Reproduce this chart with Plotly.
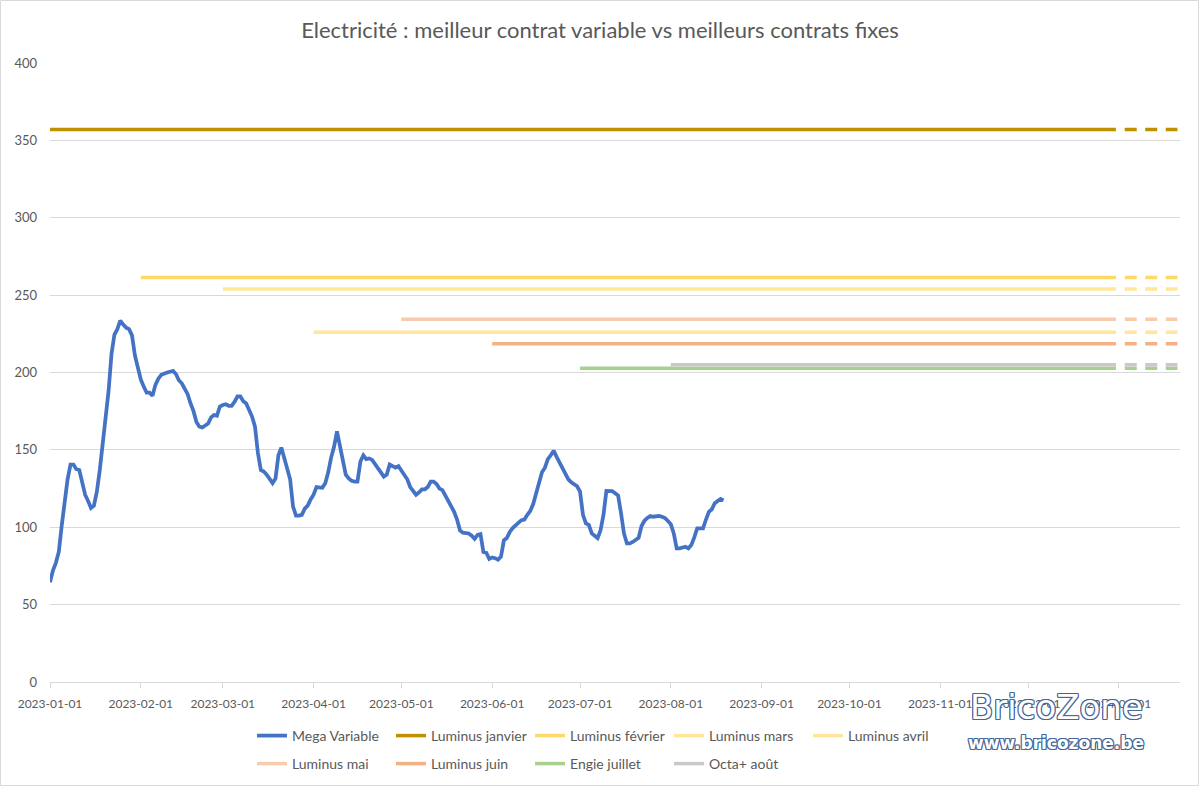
import plotly.graph_objects as go

# ---------------- data ----------------
mega_dates = [
    "2023-01-01","2023-01-02","2023-01-03","2023-01-04","2023-01-05","2023-01-06","2023-01-07","2023-01-08",
    "2023-01-09","2023-01-10","2023-01-11","2023-01-12","2023-01-13","2023-01-14","2023-01-15","2023-01-16",
    "2023-01-17","2023-01-18","2023-01-19","2023-01-20","2023-01-21","2023-01-22","2023-01-23","2023-01-24",
    "2023-01-25","2023-01-26","2023-01-27","2023-01-28","2023-01-29","2023-01-30","2023-01-31",
    "2023-02-01","2023-02-02","2023-02-03","2023-02-04","2023-02-05","2023-02-06","2023-02-07","2023-02-08",
    "2023-02-09","2023-02-10","2023-02-11","2023-02-12","2023-02-13","2023-02-14","2023-02-15","2023-02-16",
    "2023-02-17","2023-02-18","2023-02-19","2023-02-20","2023-02-21","2023-02-22","2023-02-23","2023-02-24",
    "2023-02-25","2023-02-26","2023-02-27","2023-02-28",
    "2023-03-01","2023-03-02","2023-03-03","2023-03-04","2023-03-05","2023-03-06","2023-03-07","2023-03-08",
    "2023-03-09","2023-03-10","2023-03-11","2023-03-12","2023-03-13","2023-03-14","2023-03-15","2023-03-16",
    "2023-03-17","2023-03-18","2023-03-19","2023-03-20","2023-03-21","2023-03-22","2023-03-23","2023-03-24",
    "2023-03-25","2023-03-26","2023-03-27","2023-03-28","2023-03-29","2023-03-30","2023-03-31",
    "2023-04-01","2023-04-02","2023-04-03","2023-04-04","2023-04-05","2023-04-06","2023-04-07","2023-04-08",
    "2023-04-09","2023-04-10","2023-04-11","2023-04-12","2023-04-13","2023-04-14","2023-04-15","2023-04-16",
    "2023-04-17","2023-04-18","2023-04-19","2023-04-20","2023-04-21","2023-04-22","2023-04-23","2023-04-24",
    "2023-04-25","2023-04-26","2023-04-27","2023-04-28","2023-04-29","2023-04-30",
    "2023-05-01","2023-05-02","2023-05-03","2023-05-04","2023-05-05","2023-05-06","2023-05-07","2023-05-08",
    "2023-05-09","2023-05-10","2023-05-11","2023-05-12","2023-05-13","2023-05-14","2023-05-15","2023-05-16",
    "2023-05-17","2023-05-18","2023-05-19","2023-05-20","2023-05-21","2023-05-22","2023-05-23","2023-05-24",
    "2023-05-25","2023-05-26","2023-05-27","2023-05-28","2023-05-29","2023-05-30","2023-05-31",
    "2023-06-01","2023-06-02","2023-06-03","2023-06-04","2023-06-05","2023-06-06","2023-06-07","2023-06-08",
    "2023-06-09","2023-06-10","2023-06-11","2023-06-12","2023-06-13","2023-06-14","2023-06-15","2023-06-16",
    "2023-06-17","2023-06-18","2023-06-19","2023-06-20","2023-06-21","2023-06-22","2023-06-23","2023-06-24",
    "2023-06-25","2023-06-26","2023-06-27","2023-06-28","2023-06-29","2023-06-30",
    "2023-07-01","2023-07-02","2023-07-03","2023-07-04","2023-07-05","2023-07-06","2023-07-07","2023-07-08",
    "2023-07-09","2023-07-10","2023-07-11","2023-07-12","2023-07-13","2023-07-14","2023-07-15","2023-07-16",
    "2023-07-17","2023-07-18","2023-07-19","2023-07-20","2023-07-21","2023-07-22","2023-07-23","2023-07-24",
    "2023-07-25","2023-07-26","2023-07-27","2023-07-28","2023-07-29","2023-07-30","2023-07-31",
    "2023-08-01","2023-08-02","2023-08-03","2023-08-04","2023-08-05","2023-08-06","2023-08-07","2023-08-08",
    "2023-08-09","2023-08-10","2023-08-11","2023-08-12","2023-08-13","2023-08-14","2023-08-15","2023-08-16",
    "2023-08-17","2023-08-18","2023-08-19",
]
mega_values = [
    64.5, 72, 77, 84, 101, 118, 131, 140.5,
    140.5, 137.5, 137, 129, 121, 117, 112.5, 114,
    123, 137, 154, 172, 188, 212, 224.5, 228,
    233.5, 231, 229, 228, 224, 211, 203,
    195.5, 191, 187, 187, 185, 192, 196, 198.5,
    199.5, 200, 200.5, 201, 199, 195, 193, 190,
    186, 180, 175, 168, 165, 164.5, 166, 167,
    171, 172.5, 172, 178,
    179, 179.5, 178.5, 178.5, 181, 184.5, 184.5, 181.5,
    180, 175.5, 171.5, 165, 148, 137, 136, 134,
    131, 128.5, 131.5, 146.5, 151.5, 144, 138, 131,
    113.3, 107.5, 107.5, 108, 112, 114, 118,
    121, 126, 125.5, 125.5, 128.5, 135.5, 145, 152,
    162, 152, 142, 134, 131.5, 130, 129.5, 129.5,
    142.5, 146.5, 144, 144.5, 143.5, 141, 138.5, 135,
    132.7, 134, 140.5, 139.5, 138.5, 139.5,
    136.5, 133.5, 131, 126, 123, 121, 122.5, 124.5,
    124.5, 126, 129.5, 129.5, 128, 125, 124, 120.5,
    117, 113.5, 110, 105, 98, 96.5, 96, 96,
    94.5, 92.5, 95, 95.5, 84, 83.5, 79.5,
    80.5, 80, 79, 81, 91.5, 93, 97, 99.5,
    101.5, 103, 104.5, 105, 108, 110.5, 115, 122.5,
    129.5, 135.5, 138.5, 144, 146.5, 149.5, 145.5, 142,
    138, 135.5, 131, 129, 127.5, 126.5,
    123, 108, 102.5, 101.5, 96, 94.5, 93, 98,
    108, 123.5, 123.5, 123.4, 122, 120.5, 109, 96,
    89.6, 89.6, 90.5, 92, 93.2, 100.8, 104.2, 106,
    107.3, 106.8, 107.3, 107.3, 106.8, 106, 104,
    102, 96, 86.4, 86.4, 86.8, 87.4, 86.4, 88.5,
    93.5, 99.3, 99.3, 99.3, 105, 110, 111.6, 115.5,
    117, 118.3, 117.4,
]

fixed_names = ["Luminus janvier", "Luminus février", "Luminus mars", "Luminus avril",
               "Luminus mai", "Luminus juin", "Engie juillet", "Octa+ août"]
fixed_values = [357, 261.4, 254, 226, 234.4, 218.6, 202.7, 205]
fixed_start = ["2023-01-01", "2023-02-01", "2023-03-01", "2023-04-01",
               "2023-05-01", "2023-06-01", "2023-07-01", "2023-08-01"]
fixed_end = "2023-12-31"
proj_dates = ["2024-01-03", "2024-01-21"]

tick_dates = ["2023-01-01", "2023-02-01", "2023-03-01", "2023-04-01", "2023-05-01",
              "2023-06-01", "2023-07-01", "2023-08-01", "2023-09-01", "2023-10-01",
              "2023-11-01", "2023-12-01", "2024-01-01"]

# ---------------- styles ----------------
FONT = "Lato, 'Open Sans', sans-serif"
GREY_TXT = "#595959"
GRID = "#d9d9d9"
mega_color = "#4472C4"
fixed_colors = ["#BF9000", "#FFD966", "#FFE699", "#FFE699",
                "#F8CBAD", "#F4B183", "#A9D18E", "#C9C9C9"]

fig = go.Figure()

fig.add_trace(go.Scatter(
    x=mega_dates, y=mega_values, mode="lines", name="Mega Variable",
    line=dict(color=mega_color, width=3.75), legend="legend",
))

for i, name in enumerate(fixed_names):
    leg = "legend" if i < 4 else "legend2"
    fig.add_trace(go.Scatter(
        x=[fixed_start[i], fixed_end], y=[fixed_values[i], fixed_values[i]],
        mode="lines", name=name, legend=leg,
        line=dict(color=fixed_colors[i], width=3.5),
    ))
    fig.add_trace(go.Scatter(
        x=proj_dates, y=[fixed_values[i], fixed_values[i]],
        mode="lines", name=name, showlegend=False, legend=leg,
        line=dict(color=fixed_colors[i], width=3.5, dash="12px,8.5px"),
    ))

W, H = 1200, 787
L, R, T, B = 50, 20, 63, 105
pw, ph = W - L - R, H - T - B

def px2paper_x(px):
    return (px - L) / pw

def px2paper_y(py):
    return (H - B - py) / ph

def cx(px):
    return px / W

def cy(py):
    return 1 - py / H

fig.update_layout(
    width=W, height=H,
    margin=dict(l=L, r=R, t=T, b=B, autoexpand=False),
    paper_bgcolor="white", plot_bgcolor="white",
    font=dict(family=FONT, color=GREY_TXT, size=13),
    title=dict(text="Electricité : meilleur contrat variable vs meilleurs contrats fixes",
               x=0.5, xanchor="center", y=cy(30), yanchor="middle",
               font=dict(family=FONT, size=22, color=GREY_TXT)),
    showlegend=True,
    legend=dict(orientation="h", xref="container", yref="container",
                x=cx(252), xanchor="left", y=cy(736), yanchor="middle",
                entrywidth=94, entrywidthmode="pixels",
                font=dict(family=FONT, size=14, color=GREY_TXT),
                bgcolor="rgba(0,0,0,0)", traceorder="normal"),
    legend2=dict(orientation="h", xref="container", yref="container",
                 x=cx(252), xanchor="left", y=cy(764), yanchor="middle",
                 entrywidth=94, entrywidthmode="pixels",
                 font=dict(family=FONT, size=14, color=GREY_TXT),
                 bgcolor="rgba(0,0,0,0)", traceorder="normal"),
    xaxis=dict(type="date", range=["2023-01-01", "2024-01-21 21:00"],
               tickmode="array", tickvals=tick_dates, ticktext=tick_dates,
               showgrid=False, zeroline=False,
               showline=True, linecolor=GRID, linewidth=1,
               ticks="outside", ticklen=5, tickcolor=GRID,
               tickfont=dict(family=FONT, size=12, color=GREY_TXT),
               ticklabelstandoff=6),
    yaxis=dict(range=[0, 400], dtick=50, tick0=0,
               showgrid=True, gridcolor=GRID, gridwidth=1,
               zeroline=False, showline=False, ticks="",
               tickfont=dict(family=FONT, size=13, color=GREY_TXT),
               ticklabelstandoff=12),
)

# chart border
fig.add_shape(type="rect", xref="paper", yref="paper",
              x0=px2paper_x(0.5), x1=px2paper_x(1198.5),
              y0=px2paper_y(785.5), y1=px2paper_y(0.5),
              line=dict(color=GRID, width=1), fillcolor="rgba(0,0,0,0)", layer="below")

# watermark
outline = "#46689a"
shadow = (f"1px 0 0 {outline}, -1px 0 0 {outline}, 0 1px 0 {outline}, 0 -1px 0 {outline}, "
          f"1px 1px 0 {outline}, -1px -1px 0 {outline}, 1px -1px 0 {outline}, -1px 1px 0 {outline}")
fig.add_annotation(text="BricoZone", xref="paper", yref="paper",
                   x=px2paper_x(1056), y=px2paper_y(707), xanchor="center", yanchor="middle",
                   showarrow=False,
                   font=dict(family="'DejaVu Sans', sans-serif", size=34, color="white", shadow=shadow))
fig.add_annotation(text="<b>www.bricozone.be</b>", xref="paper", yref="paper",
                   x=px2paper_x(1056), y=px2paper_y(743), xanchor="center", yanchor="middle",
                   showarrow=False,
                   font=dict(family="'DejaVu Sans', sans-serif", size=17, color="white", shadow=shadow))

fig.write_html("out.html")
